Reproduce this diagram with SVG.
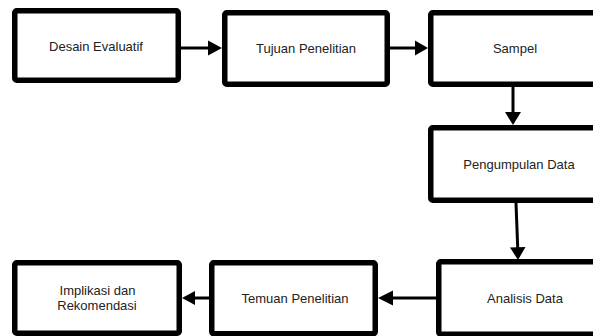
<svg xmlns="http://www.w3.org/2000/svg" width="593" height="336" viewBox="0 0 593 336">
<style>
.box{fill:#fff;stroke:#000;stroke-width:5.5;stroke-linejoin:round}
.lbl{font-family:"Liberation Sans",Arial,sans-serif;font-size:13px;fill:#222;text-anchor:middle}
.ln{stroke:#000;stroke-width:3;fill:none}
.ah{fill:#000;stroke:none}
</style>
<rect width="593" height="336" fill="#fff"/>
<g id="connectors">
<line class="ln" x1="181" y1="48" x2="210" y2="48"/>
<polygon class="ah" points="208,40.5 222,48 208,55.5"/>
<line class="ln" x1="390" y1="48" x2="417" y2="48"/>
<polygon class="ah" points="415,40.5 428,48 415,55.5"/>
<line class="ln" x1="513" y1="87" x2="513" y2="114"/>
<polygon class="ah" points="505,112 521,112 513,125"/>
<line class="ln" x1="516" y1="203" x2="517.8" y2="250"/>
<polygon class="ah" points="510,247.5 525.5,247 518,260"/>
<line class="ln" x1="436" y1="298" x2="391" y2="298"/>
<polygon class="ah" points="393,290.5 378,298 393,305.5"/>
<line class="ln" x1="209" y1="298" x2="193" y2="298"/>
<polygon class="ah" points="195,291 182,298 195,305"/>
</g>
<g id="desain-evaluatif">
<rect class="box" x="14.75" y="10.75" width="163.5" height="69.5" rx="2"/>
<text class="lbl" x="96" y="50.5">Desain Evaluatif</text>
</g>
<g id="tujuan-penelitian">
<rect class="box" x="224.75" y="12.75" width="162.5" height="71.5" rx="2"/>
<text class="lbl" x="306" y="52.5">Tujuan Penelitian</text>
</g>
<g id="sampel">
<rect class="box" x="430.75" y="12.75" width="180" height="71.5" rx="2"/>
<text class="lbl" x="515" y="52.5">Sampel</text>
</g>
<g id="pengumpulan-data">
<rect class="box" x="430.75" y="127.75" width="180" height="72.5" rx="2"/>
<text class="lbl" x="519" y="168.5">Pengumpulan Data</text>
</g>
<g id="analisis-data">
<rect class="box" x="438.75" y="261.75" width="180" height="72.5" rx="2"/>
<text class="lbl" x="525" y="302.5">Analisis Data</text>
</g>
<g id="temuan-penelitian">
<rect class="box" x="211.75" y="262.75" width="163.5" height="71" rx="2"/>
<text class="lbl" x="295" y="302.5">Temuan Penelitian</text>
</g>
<g id="implikasi-rekomendasi">
<rect class="box" x="14.75" y="262.75" width="164.5" height="70.5" rx="2"/>
<text class="lbl" x="97.5" y="295">Implikasi dan</text>
<text class="lbl" x="97" y="310">Rekomendasi</text>
</g>
</svg>
